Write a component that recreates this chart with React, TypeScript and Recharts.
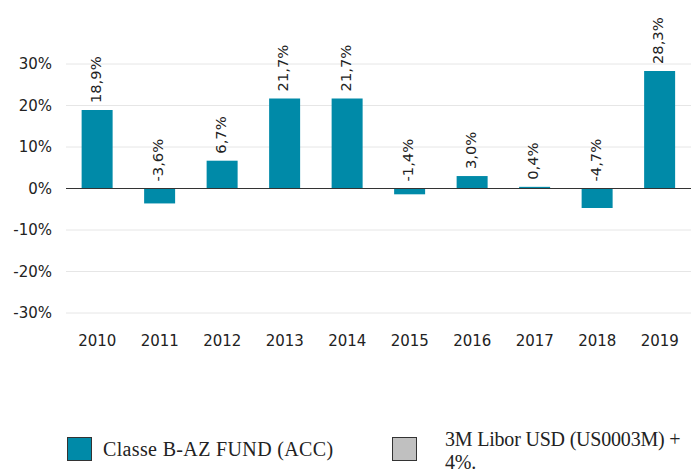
import { BarChart, Bar, XAxis, YAxis, CartesianGrid, ReferenceLine, LabelList } from 'recharts'

// ── Data ──────────────────────────────────────────────────────────────────────
const YEARS = ['2010', '2011', '2012', '2013', '2014', '2015', '2016', '2017', '2018', '2019']
const FUND = [18.9, -3.6, 6.7, 21.7, 21.7, -1.4, 3.0, 0.4, -4.7, 28.3]
const Y_TICKS = [-30, -20, -10, 0, 10, 20, 30]

const FUND_NAME = 'Classe B-AZ FUND (ACC)'
const BENCH_NAME = '3M Libor USD (US0003M) + 4%.'

const TEAL = '#008aa8'
const BENCH_GREY = '#c0c0c0'
const TEXT = '#222'
const SANS = '"DejaVu Sans", Verdana, sans-serif'
const SERIF = '"Liberation Serif", "Times New Roman", serif'

const data = YEARS.map((year, i) => ({ year, fund: FUND[i] }))

const fmt = (v: number) => `${v.toFixed(1).replace('.', ',')}%`

// rotated value label sitting above the bar (or above zero for negatives)
// eslint-disable-next-line @typescript-eslint/no-explicit-any
function VerticalLabel(props: any) {
  const { x, y, width, height, value } = props
  const top = Math.min(y, y + height)
  const cx = x + width / 2 - 2
  const ty = top - 7
  return (
    <text
      x={cx}
      y={ty}
      transform={`rotate(-90, ${cx}, ${ty})`}
      textAnchor="start"
      dominantBaseline="central"
      fontFamily={SANS}
      fontSize={14.7}
      fill={TEXT}
    >
      {fmt(Number(value))}
    </text>
  )
}

// ── Legend (boxes + serif captions, placed like the source) ──────────────────

const boxStyle = (color: string): React.CSSProperties => ({
  position: 'absolute',
  width: 23,
  height: 22,
  background: color,
  border: '1px solid #333',
})

const captionStyle: React.CSSProperties = {
  position: 'absolute',
  fontFamily: SERIF,
  fontSize: 20,
  lineHeight: '23px',
  color: TEXT,
  whiteSpace: 'normal',
}

export default function App() {
  return (
    <div style={{ position: 'absolute', left: 0, top: 0, width: 692, height: 471, background: '#fff', overflow: 'hidden' }}>
      <BarChart
        width={692}
        height={360}
        data={data}
        margin={{ top: 64, right: 1, left: 0, bottom: 7 }}
        barCategoryGap="25%"
      >
        <CartesianGrid vertical={false} stroke="#e6e6e6" />
        <XAxis
          dataKey="year"
          axisLine={false}
          tickLine={false}
          tickMargin={16}
          height={40}
          tick={{ fill: TEXT, fontSize: 15, fontFamily: SANS }}
        />
        <YAxis
          domain={[-30, 30]}
          ticks={Y_TICKS}
          width={66}
          axisLine={false}
          tickLine={false}
          tickMargin={8}
          tickFormatter={(v) => `${v}%`}
          tick={{ fill: TEXT, fontSize: 15, fontFamily: SANS }}
        />
        <ReferenceLine y={0} stroke="#333" strokeWidth={1} />
        <Bar dataKey="fund" fill={TEAL} isAnimationActive={false}>
          <LabelList dataKey="fund" content={VerticalLabel} />
        </Bar>
      </BarChart>

      <div style={{ ...boxStyle(TEAL), left: 67, top: 437 }} />
      <div style={{ ...captionStyle, left: 103, top: 438, letterSpacing: 0.35 }}>{FUND_NAME}</div>

      <div style={{ ...boxStyle(BENCH_GREY), left: 392, top: 437 }} />
      <div style={{ ...captionStyle, left: 445, top: 428, width: 246, letterSpacing: -0.2 }}>{BENCH_NAME}</div>
    </div>
  )
}
